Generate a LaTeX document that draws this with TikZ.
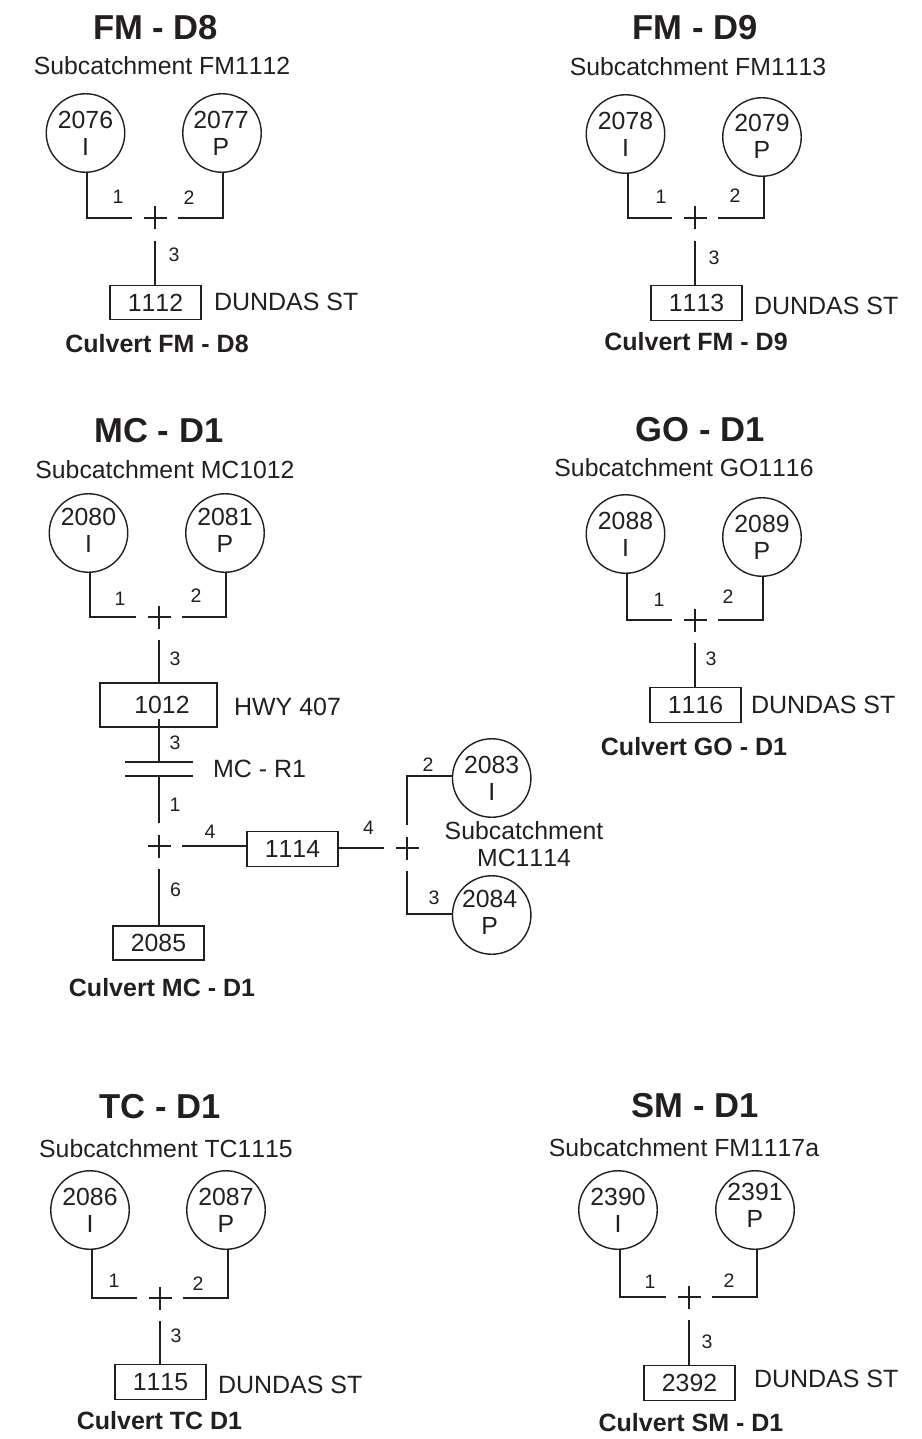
\documentclass[tikz,border=0pt]{standalone}
\usepackage{fontspec}
\setmainfont[Kerning=Off]{Liberation Sans}
\definecolor{ink}{HTML}{231F20}
\newcommand{\lifttext}[1]{\rule[-#1]{0pt}{#1}}
\tikzset{
  every node/.style={text=ink,inner sep=0pt,outer sep=0pt},
  wire/.style={draw=ink,line width=1.4pt},
  titletext/.style={font=\fontsize{34.6}{38}\selectfont\bfseries},
  subtext/.style={font=\fontsize{24.8}{27}\selectfont,align=center},
  culverttext/.style={font=\fontsize{25}{27}\selectfont\bfseries},
  roadtext/.style={font=\fontsize{25}{27}\selectfont,anchor=west},
  linknum/.style={font=\fontsize{19.5}{21}\selectfont},
  basin/.style={circle,draw=ink,line width=1.4pt,minimum size=78.5pt,align=center,font=\fontsize{24.8}{27}\selectfont},
  culvertbox/.style={rectangle,draw=ink,line width=1.4pt,minimum width=91pt,minimum height=34.5pt,font=\fontsize{24.8}{27}\selectfont},
  junction/.style={rectangle,minimum size=46pt,path picture={
    \draw[wire] ([xshift=-11.5pt]path picture bounding box.center) -- ([xshift=11.5pt]path picture bounding box.center);
    \draw[wire] ([yshift=-11.5pt]path picture bounding box.center) -- ([yshift=11.5pt]path picture bounding box.center);}},
}
\begin{document}
\begin{tikzpicture}[x=1pt,y=-1pt]
\useasboundingbox (0,0) rectangle (921,1439);
% FM - D8
\node[titletext] (t1) at (155.5,28) {FM - D8};
\node[subtext] (s1) at (162,66) {Subcatchment FM1112};
\node[basin] (c1a) at (85.5,133) {2076\\I};
\node[basin] (c1b) at (222,133) {2077\hspace*{2pt}\\P\hspace*{2pt}};
\node[junction] (j1) at (155,218) {};
\node[culvertbox] (b1) at (155.5,302.5) {1112};
\node[roadtext] (r1) at (214,302) {DUNDAS ST};
\node[culverttext] (k1) at (157,344) {Culvert FM - D8};
\node[linknum] (n1a) at (118,197) {1};
\node[linknum] (n1b) at (189,198) {2};
\node[linknum] (n1c) at (174,255) {3};
\draw[wire] ([xshift=1.5pt]c1a.south) |- (j1.west);
\draw[wire] ([xshift=1pt]c1b.south) |- (j1.east);
\draw[wire] (j1.south) -- (j1.south |- b1.north);
% FM - D9
\node[titletext] (t2) at (695,28) {FM - D9};
\node[subtext] (s2) at (698,67) {Subcatchment FM1113};
\node[basin] (c2a) at (625.5,134) {2078\\I};
\node[basin] (c2b) at (762,137) {2079\\P\lifttext{2pt}};
\node[junction] (j2) at (695,218) {};
\node[culvertbox] (b2) at (696.5,303) {1113};
\node[roadtext] (r2) at (754,306) {DUNDAS ST};
\node[culverttext] (k2) at (696,342) {Culvert FM - D9};
\node[linknum] (n2a) at (661,197) {1};
\node[linknum] (n2b) at (735,196) {2};
\node[linknum] (n2c) at (714,258) {3};
\draw[wire] ([xshift=2.5pt]c2a.south) |- (j2.west);
\draw[wire] ([xshift=2pt]c2b.south) |- (j2.east);
\draw[wire] (j2.south) -- (j2.south |- b2.north);
% MC - D1
\node[titletext] (t3) at (159,431) {MC - D1};
\node[subtext] (s3) at (165,470) {Subcatchment MC1012};
\node[basin] (c3a) at (88.5,533) {2080\\I\lifttext{5pt}};
\node[basin] (c3b) at (225,533) {2081\\P\lifttext{5pt}};
\node[junction] (j3) at (159,617) {};
\node[culvertbox,minimum width=117pt,minimum height=44pt] (b3) at (158.5,705) {\hspace*{7pt}1012};
\node[roadtext] (r3) at (234,707) {HWY 407};
\coordinate (b3out) at (159,719);
\node[rectangle,minimum width=68pt,minimum height=14pt] (p3) at (159,769) {};
\draw[wire] (p3.north west) -- (p3.north east);
\draw[wire] (p3.south west) -- (p3.south east);
\node[roadtext] (r3b) at (213,769) {MC - R1};
\node[junction] (j3b) at (159,846) {};
\node[culvertbox,minimum height=34pt] (b3b) at (158.5,943) {2085};
\node[culvertbox] (b3c) at (292.5,849) {1114};
\node[junction] (j3c) at (407,848) {};
\node[basin] (c3c) at (491.7,778) {2083\\I};
\node[basin] (c3d) at (491.7,915) {2084\hspace*{4pt}\\P\hspace*{4pt}\lifttext{5pt}};
\node[subtext] (s3b) at (524,844.5) {Subcatchment\\MC1114};
\node[culverttext] (k3) at (162,988) {Culvert MC - D1};
\node[linknum] (n3a) at (120,599) {1};
\node[linknum] (n3b) at (196,596) {2};
\node[linknum] (n3c) at (175,659) {3};
\node[linknum] (n3d) at (175,743) {3};
\node[linknum] (n3e) at (175,805) {1};
\node[linknum] (n3f) at (210,832) {4};
\node[linknum] (n3g) at (368.5,828) {4};
\node[linknum] (n3h) at (175.5,890) {6};
\node[linknum] (n3i) at (428,765) {2};
\node[linknum] (n3j) at (434,898) {3};
\draw[wire] ([xshift=1.5pt]c3a.south) |- (j3.west);
\draw[wire] ([xshift=1pt]c3b.south) |- (j3.east);
\draw[wire] (j3.south) -- (j3.south |- b3.north);
\draw[wire] (b3out) -- (p3.north);
\draw[wire] (p3.south) -- (j3b.north);
\draw[wire] (j3b.south) -- (j3b.south |- b3b.north);
\draw[wire] (j3b.east) -- (j3b.east -| b3c.west);
\draw[wire] (b3c.east |- j3c.west) -- (j3c.west);
\draw[wire] (j3c.north) |- ([yshift=2pt]c3c.west);
\draw[wire] (j3c.south) |- ([yshift=1pt]c3d.west);
% GO - D1
\node[titletext] (t4) at (700,430) {GO - D1};
\node[subtext] (s4) at (684,468) {Subcatchment GO1116};
\node[basin] (c4a) at (625.5,534) {2088\\I};
\node[basin] (c4b) at (762,537) {2089\\P};
\node[junction] (j4) at (695,620) {};
\node[culvertbox] (b4) at (695.5,705) {1116};
\node[roadtext] (r4) at (751,705) {DUNDAS ST};
\node[culverttext] (k4) at (694,747) {Culvert GO - D1};
\node[linknum] (n4a) at (659,600) {1};
\node[linknum] (n4b) at (728,597) {2};
\node[linknum] (n4c) at (711,659) {3};
\draw[wire] ([xshift=1.5pt]c4a.south) |- (j4.west);
\draw[wire] ([xshift=1pt]c4b.south) |- (j4.east);
\draw[wire] (j4.south) -- (j4.south |- b4.north);
% TC - D1
\node[titletext] (t5) at (160,1107) {TC - D1};
\node[subtext] (s5) at (166,1149) {Subcatchment TC1115};
\node[basin] (c5a) at (90,1210) {2086\\I};
\node[basin] (c5b) at (226,1210) {2087\\P};
\node[junction] (j5) at (160,1298) {};
\node[culvertbox] (b5) at (160.5,1382) {1115};
\node[roadtext] (r5) at (218,1385) {DUNDAS ST};
\node[culverttext] (k5) at (159.5,1421) {Culvert TC D1};
\node[linknum] (n5a) at (114,1281) {1};
\node[linknum] (n5b) at (198,1284) {2};
\node[linknum] (n5c) at (176,1336) {3};
\draw[wire] ([xshift=2pt]c5a.south) |- (j5.west);
\draw[wire] ([xshift=2pt]c5b.south) |- (j5.east);
\draw[wire] (j5.south) -- (j5.south |- b5.north);
% SM - D1
\node[titletext] (t6) at (695,1106) {SM - D1};
\node[subtext] (s6) at (684,1148) {Subcatchment FM1117a};
\node[basin] (c6a) at (618,1210) {2390\\I};
\node[basin] (c6b) at (755,1210) {2391\\P\lifttext{9pt}};
\node[junction] (j6) at (689,1297) {};
\node[culvertbox] (b6) at (689.5,1383) {2392};
\node[roadtext] (r6) at (754,1379) {DUNDAS ST};
\node[culverttext] (k6) at (691,1423) {Culvert SM - D1};
\node[linknum] (n6a) at (650,1282) {1};
\node[linknum] (n6b) at (729,1281) {2};
\node[linknum] (n6c) at (707,1342) {3};
\draw[wire] ([xshift=2pt]c6a.south) |- (j6.west);
\draw[wire] ([xshift=2pt]c6b.south) |- (j6.east);
\draw[wire] (j6.south) -- (j6.south |- b6.north);
\end{tikzpicture}
\end{document}
